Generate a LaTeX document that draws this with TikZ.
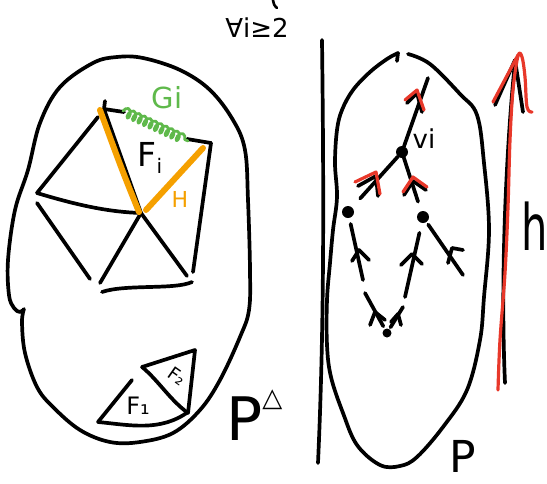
\documentclass[tikz,border=0pt]{standalone}
\usepackage{fontspec}
\setmainfont{DejaVu Sans}
\usetikzlibrary{decorations.pathmorphing}
\definecolor{hor}{RGB}{245,160,0}
\definecolor{hgr}{RGB}{95,185,75}
\definecolor{hrd}{RGB}{232,56,42}
\begin{document}
\begin{tikzpicture}[x=1pt,y=-1pt,line cap=round,line join=round,
  ink/.style={line width=3.7pt,black},
  thinred/.style={line width=3.2pt,hrd},
  orng/.style={line width=6pt,hor},
  dot/.style={circle,fill=black,inner sep=0pt,minimum size=12pt},
  lbl/.style={inner sep=0pt}]
\useasboundingbox (0,0) rectangle (547,483);

% ---------- left blob P^triangle ----------
\draw[ink] plot[smooth,tension=0.6] coordinates {(24,309) (22,322) (25,353) (37,387) (53,407) (80,430) (110,442) (140,442) (173,433) (200,410) (220,380) (240,337) (249,310) (250,270) (248,200) (245,150) (233,120) (210,90) (180,70) (143,58) (117,57) (93,63) (60,87) (40,123) (28,170) (15,210) (8,260) (9,295) (14,308) (20,312) (24,309)};

% fan
\coordinate (A) at (104,109);
\coordinate (B) at (211,143);
\coordinate (C) at (141,213);
\coordinate (D) at (37,193);
\draw[ink] (105,101) -- (A);
\draw[ink] (A) -- (124,112);
\draw[ink] (187,139) -- (B);
\draw[ink] (98,117) -- (D);
\draw[ink] (D) .. controls (80,206) and (110,212) .. (C);
\draw[ink] (37,203) -- (90,279);
\draw[ink] (C) -- (100,283);
\draw[ink] (C) -- (187,276);
\draw[ink] (B) -- (193,272);
\draw[ink] (102,292) .. controls (125,284) and (175,290) .. (192,282);
\draw[ink] (A) -- (C);
\draw[orng] (100,110) .. controls (122,170) .. (139,212);
\draw[orng] (146,210) -- (203,148);
\draw[hgr,line width=2.8pt,decorate,decoration={coil,aspect=0.55,segment length=6pt,amplitude=4.5pt}] (123,111) -- (188,141);

\node[lbl,hgr,font=\fontsize{29}{29}\selectfont] (gl) at (167,98) {Gi};
\node[lbl,font=\fontsize{33}{33}\selectfont] (fl) at (150,158) {F\raisebox{-7pt}{\fontsize{20}{20}\selectfont i}};
\node[lbl,hor,font=\fontsize{22}{22}\selectfont] (hl) at (180,199) {H};

% small fans
\draw[ink] (142,367) -- (195,350) -- (188,413);
\draw[ink] (142,367) .. controls (158,380) and (170,400) .. (188,413);
\draw[ink] (132,380) -- (98,422);
\draw[ink] (98,422) .. controls (130,425) and (160,432) .. (188,412);
\node[lbl,font=\fontsize{24}{24}\selectfont] (f1) at (138,406) {F₁};
\node[lbl,font=\fontsize{18}{18}\selectfont,rotate=-35] (f2) at (177,376) {F₂};

\node[lbl,font=\fontsize{60}{60}\selectfont,anchor=base west] (pd) at (226,440) {P\raisebox{34pt}{\fontsize{26}{26}\selectfont △}};

% divider and top label
\draw[ink] (322,40) .. controls (324,200) and (324,330) .. (318,463);
\draw[line width=2.6pt] (273,0) .. controls (274,5) .. (277,8);
\node[lbl,font=\fontsize{26}{26}\selectfont] (fa) at (257,28) {∀i≥2};

% ---------- right blob P ----------
\draw[ink] plot[smooth,tension=0.6] coordinates {(398,53) (387,59) (370,72) (353,90) (342,110) (337,130) (335,163) (337,197) (333,230) (330,263) (327,300) (327,345) (331,377) (343,413) (357,445) (380,465) (400,466) (417,457) (443,427) (467,390) (480,340) (484,297) (489,230) (484,163) (477,115) (460,94) (430,64) (408,54)};
\draw[ink] (398,53) -- (397,61);

\node[dot] (v) at (402,152) {};
\node[dot] (l) at (348,212) {};
\node[dot] (r) at (423,217) {};
\node[dot,minimum size=9pt] (b) at (387,333) {};
\coordinate (top) at (428,78);
\coordinate (ld) at (363,280);
\coordinate (rdl) at (405,297);
\coordinate (rdr) at (463,275);
\coordinate (bl) at (365,293);
\coordinate (br) at (403,307);

\draw[ink] (v) -- (top);
\draw[ink,shorten >=12pt] (v) -- (l);
\draw[ink,shorten >=10pt] (v) -- (r);
\draw[ink,shorten <=6pt] (l) -- (ld);
\draw[ink,shorten <=10pt] (r) -- (rdl);
\draw[ink,shorten <=3pt] (r) -- (rdr);
\draw[ink,shorten <=3pt] (b) -- (bl);
\draw[ink,shorten <=2pt] (b) -- (br);

% arrow marks
\draw[ink] (407,103) -- (417,93) -- (422,112);
\draw[thinred] (405,100) -- (417,90) -- (424,110);
\draw[ink] (358,186) -- (376,176) -- (378,196);
\draw[thinred] (355,182) -- (376,172) -- (380,194);
\draw[ink] (404,195) -- (413,181) -- (426,190);
\draw[thinred] (403,192) -- (413,177) -- (427,187);
\draw[ink] (352,261) -- (359,250) -- (369,260);
\draw[ink] (401,265) -- (412,254) -- (422,264);
\draw[ink] (448,263) -- (452,248) -- (463,250);
\draw[ink] (370,325) -- (375,312) -- (385,320);
\draw[ink] (391,322) -- (398,314) -- (401,325);

\node[lbl,font=\fontsize{26}{26}\selectfont] (vl) at (424,139) {vi};
\node[lbl,font=\fontsize{44}{44}\selectfont] (pr) at (463,456) {P};

% ---------- height arrow h ----------
\draw[ink] (505,383) .. controls (500,273) and (507,140) .. (515,62);
\draw[ink] (495,105) -- (515,60) -- (523,112);
\draw[thinred] plot[smooth,tension=0.6] coordinates {(498,390) (500,340) (505,273) (508,207) (510,140) (513,90) (518,56) (522,57) (525,77) (527,107) (532,112)};
\draw[thinred] (493,102) -- (518,55);
\node[lbl,font=\fontsize{64}{64}\selectfont] (hh) at (535,226) {\scalebox{0.65}[1]{h}};
\end{tikzpicture}
\end{document}
